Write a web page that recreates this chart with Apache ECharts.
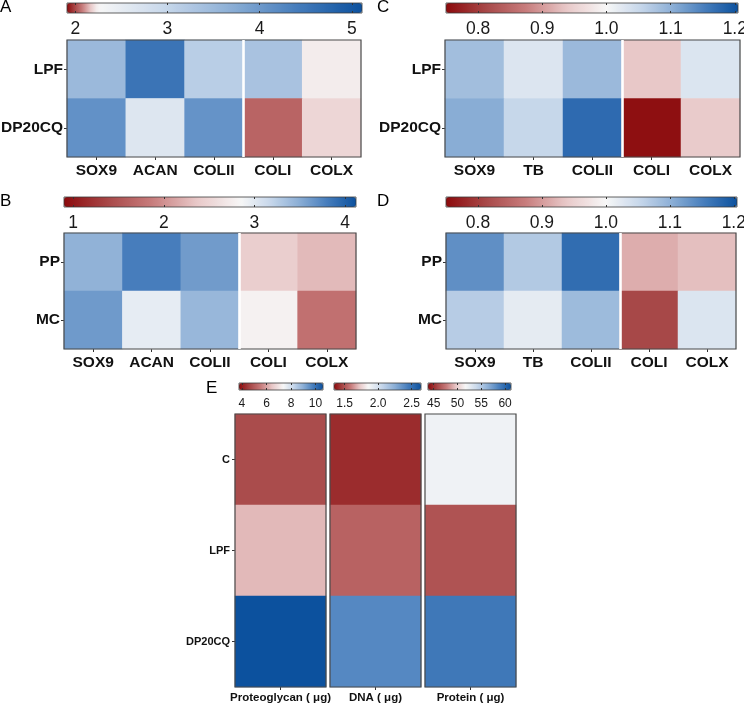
<!DOCTYPE html>
<html><head><meta charset="utf-8">
<script src="https://cdn.jsdelivr.net/npm/echarts@6/dist/echarts.min.js"></script>
<style>html,body{margin:0;padding:0;background:#fff}#c{width:744px;height:705px}</style>
</head><body><div id="c"></div>
<script>
// ---------- categories ----------
const genesAB = ['SOX9','ACAN','COLII','COLI','COLX'];
const genesCD = ['SOX9','TB','COLII','COLI','COLX'];
const groupsAC = ['LPF','DP20CQ'];
const groupsBD = ['PP','MC'];
const groupsE = ['C','LPF','DP20CQ'];
const measuresE = ['Proteoglycan ( μg)','DNA ( μg)','Protein ( μg)'];

// ---------- values (rows = groups, columns = genes) ----------
const valuesA_LPF    = [3.51, 4.54, 3.14, 3.34, 2.23];
const valuesA_DP20CQ = [4.11, 2.65, 4.08, 2.04, 2.19];
const valuesB_PP     = [3.46, 3.80, 3.61, 2.42, 2.27];
const valuesB_MC     = [3.62, 2.96, 3.42, 2.79, 1.76];
const valuesC_LPF    = [1.084, 1.029, 1.090, 0.938, 1.030];
const valuesC_DP20CQ = [1.105, 1.053, 1.175, 0.755, 0.942];
const valuesD_PP     = [1.135, 1.070, 1.172, 0.915, 0.930];
const valuesD_MC     = [1.066, 1.020, 1.088, 0.812, 1.030];
const proteoglycan = [4.73, 6.29, 10.61];   // C, LPF, DP20CQ
const dna          = [1.41, 1.53, 2.40];
const protein      = [52.1, 46.2, 59.15];

// ---------- colour-bar scales [min, white point, max] and tick labels ----------
const scaleA = [1.91, 2.25, 5.11];   const ticksA = [2, 3, 4, 5];
const scaleB = [0.90, 2.85, 4.12];   const ticksB = [1, 2, 3, 4];
const scaleC = [0.75, 1.0, 1.205];   const ticksC = [0.8, 0.9, 1.0, 1.1, 1.2];
const scaleD = [0.75, 1.0, 1.205];   const ticksD = [0.8, 0.9, 1.0, 1.1, 1.2];
const scalePG = [3.76, 7.37, 10.61]; const ticksPG = [4, 6, 8, 10];
const scaleDNA = [1.34, 1.85, 2.64]; const ticksDNA = [1.5, 2.0, 2.5];
const scalePR = [43.8, 51.7, 61.25]; const ticksPR = [45, 50, 55, 60];
const splitAfter = 3; // white gap between COLII and COLI

// ---------- styling ----------
const FONT = "'Liberation Sans', Arial, sans-serif";
const RED  = [[247,247,247],[232,200,200],[200,125,125],[168,72,72],[140,10,12]];
const BLUE = [[247,247,247],[200,216,235],[140,175,214],[70,125,188],[12,81,158]];
function ramp(stops, t) {
  t = Math.max(0, Math.min(1, t));
  const p = t * (stops.length - 1);
  const i = Math.min(Math.floor(p), stops.length - 2);
  const f = p - i, a = stops[i], b = stops[i + 1];
  return 'rgb(' + a.map((v, k) => Math.round(v + (b[k] - v) * f)).join(',') + ')';
}
function palette(sc) {
  const [mn, wh, mx] = sc, n = 90, out = [];
  for (let i = 0; i < n; i++) {
    const v = mn + (mx - mn) * i / (n - 1);
    out.push(v < wh ? ramp(RED, (wh - v) / (wh - mn)) : ramp(BLUE, (v - wh) / (mx - wh)));
  }
  return out;
}

const grids = [], xAxes = [], yAxes = [], series = [], visualMaps = [], titles = [];

function addColorbar(cb, sc, ticks, fmt, fontSize, margin) {
  const g = grids.length;
  grids.push({left: cb.left, top: cb.top, width: cb.width, height: cb.height, show: true,
    borderColor: '#3a3a3a', borderWidth: 0.8, backgroundColor: 'transparent', z: 10, outerBoundsMode: 'none'});
  const common = {gridIndex: g, type: 'value', min: sc[0], max: sc[2], z: 10,
    axisLine: {show: false}, splitLine: {show: false}};
  xAxes.push(Object.assign({}, common, {position: 'bottom',
    axisTick: {show: true, inside: true, length: 2, customValues: ticks, lineStyle: {color: '#333'}},
    axisLabel: {customValues: ticks, formatter: fmt, fontSize: fontSize, color: '#1a1a1a', margin: margin, fontFamily: FONT}}));
  xAxes.push(Object.assign({}, common, {position: 'top',
    axisTick: {show: true, inside: true, length: 2, customValues: ticks, lineStyle: {color: '#333'}},
    axisLabel: {show: false}}));
  yAxes.push({gridIndex: g, type: 'value', show: false});
}

function addHeat(hm, xCats, yCats, rows, o) {
  const g = grids.length;
  grids.push({left: hm.left, top: hm.top, width: hm.width, height: hm.height, show: true,
    borderColor: '#4a4a4a', borderWidth: 1.2, backgroundColor: 'transparent', z: 5, outerBoundsMode: 'none'});
  const xi = xAxes.length, yi = yAxes.length;
  xAxes.push({gridIndex: g, type: 'category', data: xCats, position: 'bottom',
    axisLine: {show: false}, splitLine: {show: false}, splitArea: {show: false},
    axisTick: {show: true, alignWithLabel: true, interval: 0, length: 3, lineStyle: {color: '#333'}},
    axisLabel: {interval: 0, fontSize: o.xFont, fontWeight: 'bold', color: '#111', margin: o.xMargin, fontFamily: FONT}});
  yAxes.push({gridIndex: g, type: 'category', data: yCats, inverse: true,
    axisLine: {show: false}, splitLine: {show: false}, splitArea: {show: false},
    axisTick: {show: o.showY, alignWithLabel: true, interval: 0, length: 3, lineStyle: {color: '#333'}},
    axisLabel: {show: o.showY, interval: 0, fontSize: o.yFont, fontWeight: 'bold', color: '#111', margin: o.yMargin, fontFamily: FONT}});
  const cells = [];
  rows.forEach((r, yIdx) => r.forEach((v, xIdx) => cells.push([xIdx, yIdx, v])));
  const si = series.length;
  series.push({type: 'heatmap', xAxisIndex: xi, yAxisIndex: yi, data: cells,
    itemStyle: {borderWidth: 0}, emphasis: {disabled: true}, progressive: 0, animation: false});
  visualMaps.push({type: 'continuous', seriesIndex: si, min: o.scale[0], max: o.scale[2],
    orient: 'horizontal', left: o.cb.left, top: o.cb.top, itemWidth: o.cb.height, itemHeight: o.cb.width,
    calculable: false, hoverLink: false, padding: 0, inRange: {color: palette(o.scale)}});
  if (o.split) {
    const vx = xAxes.length;
    xAxes.push({gridIndex: g, type: 'value', min: 0, max: xCats.length, show: false});
    series.push({type: 'line', xAxisIndex: vx, yAxisIndex: yi, data: [], silent: true, animation: false,
      markLine: {silent: true, symbol: ['none', 'none'], label: {show: false}, animation: false,
        lineStyle: {color: '#ffffff', width: 2.6, type: 'solid', opacity: 1}, emphasis: {disabled: true},
        data: [{xAxis: o.split}]}});
  }
  addColorbar(o.cb, o.scale, o.ticks, o.fmt, o.tFont, o.tMargin);
}

const int = v => String(Math.round(v));
const one = v => v.toFixed(1);
const big = {xFont: 15.5, yFont: 15.5, xMargin: 6, yMargin: 4, tFont: 17.5, tMargin: 7, showY: true};

addHeat({left: 67, top: 40, width: 294, height: 117}, genesAB, groupsAC, [valuesA_LPF, valuesA_DP20CQ],
  Object.assign({}, big, {scale: scaleA, ticks: ticksA, fmt: int, split: splitAfter,
    cb: {left: 67, top: 3, width: 295, height: 10}}));
addHeat({left: 445, top: 40, width: 295, height: 117}, genesCD, groupsAC, [valuesC_LPF, valuesC_DP20CQ],
  Object.assign({}, big, {scale: scaleC, ticks: ticksC, fmt: one, split: splitAfter,
    cb: {left: 446, top: 3, width: 292, height: 10}}));
addHeat({left: 64, top: 233, width: 292, height: 116}, genesAB, groupsBD, [valuesB_PP, valuesB_MC],
  Object.assign({}, big, {scale: scaleB, ticks: ticksB, fmt: int, split: splitAfter,
    cb: {left: 64, top: 197, width: 292, height: 10}}));
addHeat({left: 446, top: 233, width: 290, height: 116}, genesCD, groupsBD, [valuesD_PP, valuesD_MC],
  Object.assign({}, big, {scale: scaleD, ticks: ticksD, fmt: one, split: splitAfter,
    cb: {left: 446, top: 197, width: 291, height: 10}}));

const small = {xFont: 11.5, yFont: 11, xMargin: 5, yMargin: 5, tFont: 12, tMargin: 8};
const eCols = [proteoglycan, dna, protein];
const eScales = [scalePG, scaleDNA, scalePR];
const eTicks = [ticksPG, ticksDNA, ticksPR];
const eFmt = [int, one, int];
const eHm = [{left: 235, width: 91}, {left: 330, width: 91}, {left: 425, width: 91}];
const eCb = [{left: 239, width: 84}, {left: 334, width: 87}, {left: 428, width: 83}];
eCols.forEach((col, k) => {
  addHeat({left: eHm[k].left, top: 414, width: eHm[k].width, height: 273}, [measuresE[k]], groupsE,
    col.map(v => [v]),
    Object.assign({}, small, {scale: eScales[k], ticks: eTicks[k], fmt: eFmt[k], showY: k === 0,
      cb: {left: eCb[k].left, top: 383, width: eCb[k].width, height: 7}}));
});

const letter = (t, l, tp) => ({text: t, left: l, top: tp, padding: 0,
  textStyle: {fontSize: 17, fontWeight: 'normal', color: '#000', fontFamily: FONT}});
titles.push(letter('A', 0, -1), letter('C', 377, -1), letter('B', 0, 193), letter('D', 377, 193), letter('E', 206, 380));

const chart = echarts.init(document.getElementById('c'), null, {renderer: 'canvas'});
chart.setOption({animation: false, backgroundColor: '#fff', title: titles, grid: grids,
  xAxis: xAxes, yAxis: yAxes, visualMap: visualMaps, series: series});
</script></body></html>
